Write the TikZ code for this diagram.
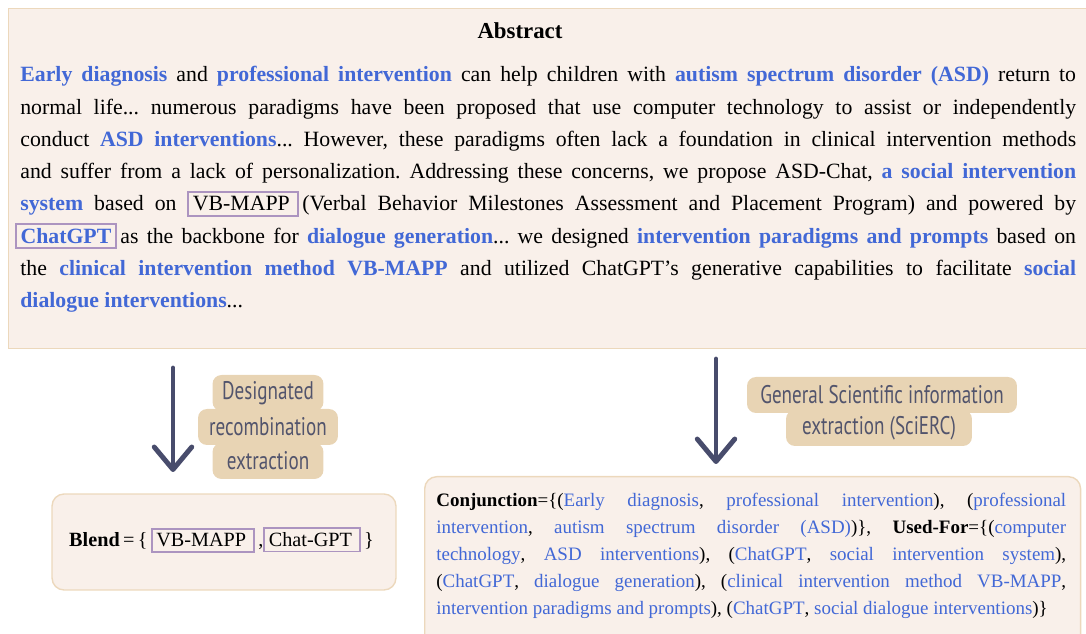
\documentclass[tikz,border=0pt]{standalone}
\usepackage{fontspec}
\setmainfont{Liberation Serif}
\newfontfamily\labelfont[FakeStretch=0.75]{PT Sans}
\usetikzlibrary{arrows.meta}
\frenchspacing
\definecolor{abs_bg}{RGB}{249,240,234}
\definecolor{abs_border}{RGB}{236,216,188}
\definecolor{tag_bg}{RGB}{232,212,180}
\definecolor{tag_text}{RGB}{82,84,108}
\definecolor{arrow_blue}{RGB}{72,76,108}
\definecolor{kw_blue}{RGB}{66,104,214}
\definecolor{frame_purple}{RGB}{172,148,192}
\tikzstyle{panel}=[draw=abs_border,fill=abs_bg,line width=0.8pt]
\tikzstyle{tagline}=[fill=tag_bg,rounded corners=0.18cm,minimum height=0.72cm,
  inner sep=0pt,text=tag_text,font=\labelfont\fontsize{14.5}{15}\selectfont]
\tikzstyle{bigarrow}=[draw=arrow_blue,line width=2.8pt,line cap=round,
  -{Straight Barb[length=4.5mm,width=7.5mm,round]}]
\newcommand{\kwbold}[1]{\textcolor{kw_blue}{\textbf{#1}}}
\newcommand{\kwplain}[1]{\textcolor{kw_blue}{#1}}
\newcommand{\framedterm}[1]{{\setlength{\fboxsep}{2pt}\setlength{\fboxrule}{1.1pt}%
  \fcolorbox{frame_purple}{abs_bg}{#1}}}

\begin{document}
\begin{tikzpicture}[x=0.02cm,y=-0.02cm]
    \useasboundingbox (0,0) rectangle (1086,634);
    % abstract
    \node [style=panel,anchor=north west,minimum width=21.68cm,minimum height=6.8cm] (absbox) at (8,8) {};
    \node [font=\fontsize{13}{15}\selectfont\bfseries] (abstitle) at (520,31) {Abstract};
    \node [anchor=north west,inner sep=0pt,text width=21.12cm,align=justify,
      font=\fontsize{12.4}{18.4}\selectfont] (abstext) at (20,66) {%
      \kwbold{Early diagnosis} and \kwbold{professional intervention} can help children with \kwbold{autism spectrum disorder (ASD)} return to\linebreak
      normal life... numerous paradigms have been proposed that use computer technology to assist or independently\linebreak
      conduct \kwbold{ASD interventions}... However, these paradigms often lack a foundation in clinical intervention methods\linebreak
      and suffer from a lack of personalization. Addressing these concerns, we propose ASD-Chat, \kwbold{a social intervention}\linebreak
      \kwbold{system} based on \framedterm{VB-MAPP\,}\,(Verbal Behavior Milestones Assessment and Placement Program) and powered by\linebreak
      \hspace*{-3pt}\framedterm{\kwbold{ChatGPT}}\,as the backbone for \kwbold{dialogue generation}... we designed \kwbold{intervention paradigms and prompts} based on\linebreak
      the \kwbold{clinical intervention method VB-MAPP} and utilized ChatGPT's generative capabilities to facilitate \kwbold{social}\linebreak
      \kwbold{dialogue interventions}...};
    % left branch
    \coordinate (lstart) at (173,368);
    \coordinate (lend) at (173,472);
    \draw [style=bigarrow] (lstart) -- (lend);
    \node [style=tagline,minimum width=2.8cm] (tagd2) at (268,427) {recombination};
    \node [style=tagline,minimum width=2.22cm] (tagd1) at (268,393) {Designated};
    \node [style=tagline,minimum width=2.22cm] (tagd3) at (268,461) {extraction};
    \node [style=panel,rounded corners=0.24cm,minimum width=6.88cm,minimum height=1.92cm] (blendbox) at (224,542) {};
    \node [anchor=west,font=\fontsize{11.5}{14}\selectfont] (blendtext) at (63,540)
      {\textbf{Blend}\,=\,\{\,\framedterm{VB-MAPP\,}\,,\framedterm{Chat-GPT\,}\,\}};
    % right branch
    \coordinate (rstart) at (716,359);
    \coordinate (rend) at (716,464);
    \draw [style=bigarrow] (rstart) -- (rend);
    \node [style=tagline,minimum width=3.72cm] (tags2) at (879,428) {extraction (SciERC)};
    \node [style=tagline,minimum width=5.4cm] (tags1) at (882,395) {General Scientific information};
    \node [style=panel,rounded corners=0.24cm,anchor=north west,minimum width=13.12cm,minimum height=3.4cm] (scibox) at (424,476) {};
    \node [anchor=north west,inner sep=0pt,text width=12.6cm,align=justify,
      font=\fontsize{10.8}{15.3}\selectfont] (scitext) at (436,493) {%
      \textbf{Conjunction}=\{(\kwplain{Early diagnosis}, \kwplain{professional intervention}), (\kwplain{professional}\linebreak
      \kwplain{intervention}, \kwplain{autism spectrum disorder (ASD)})\}, \textbf{Used-For}=\{(\kwplain{computer}\linebreak
      \kwplain{technology}, \kwplain{ASD interventions}), (\kwplain{ChatGPT}, \kwplain{social intervention system}),\linebreak
      (\kwplain{ChatGPT}, \kwplain{dialogue generation}), (\kwplain{clinical intervention method VB-MAPP},\linebreak
      \kwplain{intervention paradigms and prompts}), (\kwplain{ChatGPT}, \kwplain{social dialogue interventions})\}};
\end{tikzpicture}
\end{document}
